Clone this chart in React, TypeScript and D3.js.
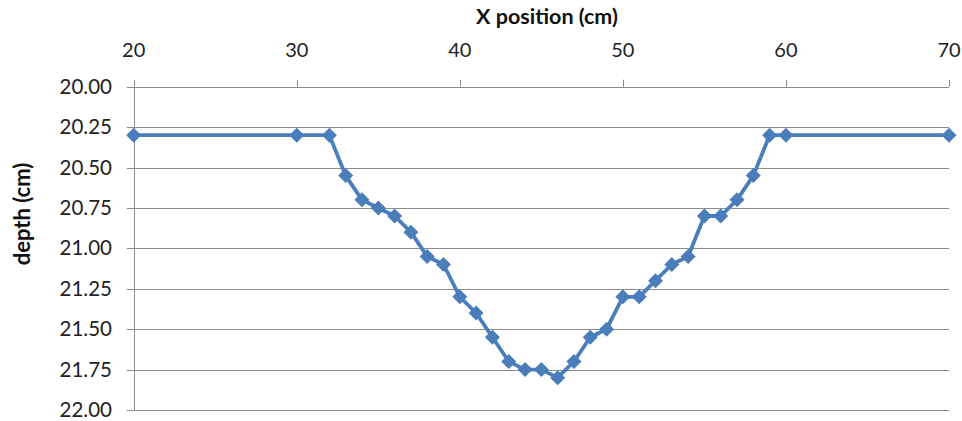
import React, { useEffect, useRef } from "react";
import * as d3 from "d3";

const xPos = [20, 30, 32, 33, 34, 35, 36, 37, 38, 39, 40, 41, 42, 43, 44, 45, 46, 47, 48, 49, 50, 51, 52, 53, 54, 55, 56, 57, 58, 59, 60, 70];
const depth = [20.3, 20.3, 20.3, 20.55, 20.7, 20.75, 20.8, 20.9, 21.05, 21.1, 21.3, 21.4, 21.55, 21.7, 21.75, 21.75, 21.8, 21.7, 21.55, 21.5, 21.3, 21.3, 21.2, 21.1, 21.05, 20.8, 20.8, 20.7, 20.55, 20.3, 20.3, 20.3];
const xTicks = [20, 30, 40, 50, 60, 70];
const yTicks = [20, 20.25, 20.5, 20.75, 21, 21.25, 21.5, 21.75, 22];

const W = 962;
const H = 421;
const FONT = "Lato, 'Open Sans', sans-serif";
const BLUE = "#4a7ebb";
const GRID = "#8c8c8c";

const App = () => {
  const svgRef = useRef<SVGSVGElement>(null);

  useEffect(() => {
    const svg = d3.select(svgRef.current);
    svg.selectAll("*").remove();

    const left = 133.7;
    const right = 949;
    const top = 86.7;
    const bottom = 410;

    const x = d3.scaleLinear().domain([20, 70]).range([left, right]);
    const y = d3.scaleLinear().domain([20, 22]).range([top, bottom]);

    // horizontal gridlines
    svg
      .append("g")
      .selectAll("line")
      .data(yTicks)
      .join("line")
      .attr("x1", left - 7)
      .attr("x2", right)
      .attr("y1", (d) => Math.round(y(d)) + 0.5)
      .attr("y2", (d) => Math.round(y(d)) + 0.5)
      .attr("stroke", GRID)
      .attr("stroke-width", 1);

    // left axis line
    svg
      .append("line")
      .attr("x1", Math.round(left) + 0.5)
      .attr("x2", Math.round(left) + 0.5)
      .attr("y1", top)
      .attr("y2", bottom + 0.5)
      .attr("stroke", GRID);

    // top tick marks
    svg
      .append("g")
      .selectAll("line")
      .data(xTicks)
      .join("line")
      .attr("x1", (d) => Math.round(x(d)) + 0.5)
      .attr("x2", (d) => Math.round(x(d)) + 0.5)
      .attr("y1", top - 7)
      .attr("y2", top)
      .attr("stroke", GRID);

    // x tick labels
    svg
      .append("g")
      .selectAll("text")
      .data(xTicks)
      .join("text")
      .attr("x", (d) => x(d))
      .attr("y", 57)
      .attr("text-anchor", "middle")
      .attr("font-family", FONT)
      .attr("font-size", 20)
      .attr("fill", "#222")
      .text((d) => d3.format("d")(d));

    // y tick labels
    svg
      .append("g")
      .selectAll("text")
      .data(yTicks)
      .join("text")
      .attr("x", 112)
      .attr("y", (d) => y(d) + 7)
      .attr("text-anchor", "end")
      .attr("font-family", FONT)
      .attr("font-size", 20.5)
      .attr("fill", "#222")
      .text((d) => d3.format(".2f")(d));

    // axis titles
    svg
      .append("text")
      .attr("x", 547)
      .attr("y", 24)
      .attr("text-anchor", "middle")
      .attr("font-family", FONT)
      .attr("font-weight", "bold")
      .attr("font-size", 21.5)
      .attr("fill", "#111")
      .text("X position (cm)");

    svg
      .append("text")
      .attr("transform", "translate(30,214) rotate(-90)")
      .attr("text-anchor", "middle")
      .attr("font-family", FONT)
      .attr("font-weight", "bold")
      .attr("font-size", 22)
      .attr("fill", "#111")
      .text("depth (cm)");

    const pts = xPos.map((v, i) => [v, depth[i]] as [number, number]);

    const line = d3
      .line<[number, number]>()
      .x((d) => x(d[0]))
      .y((d) => y(d[1]));

    svg
      .append("path")
      .datum(pts)
      .attr("d", line)
      .attr("fill", "none")
      .attr("stroke", BLUE)
      .attr("stroke-width", 3.8)
      .attr("stroke-linejoin", "round");

    const diamond = d3.symbol().type(d3.symbolDiamond2).size(144);

    svg
      .append("g")
      .selectAll("path")
      .data(pts)
      .join("path")
      .attr("d", diamond)
      .attr("transform", (d) => `translate(${x(d[0])},${y(d[1])})`)
      .attr("fill", BLUE);
  }, []);

  return (
    <svg
      ref={svgRef}
      width={W}
      height={H}
      style={{ position: "absolute", left: 0, top: 0, background: "#fff" }}
    ></svg>
  );
};

export default App;
